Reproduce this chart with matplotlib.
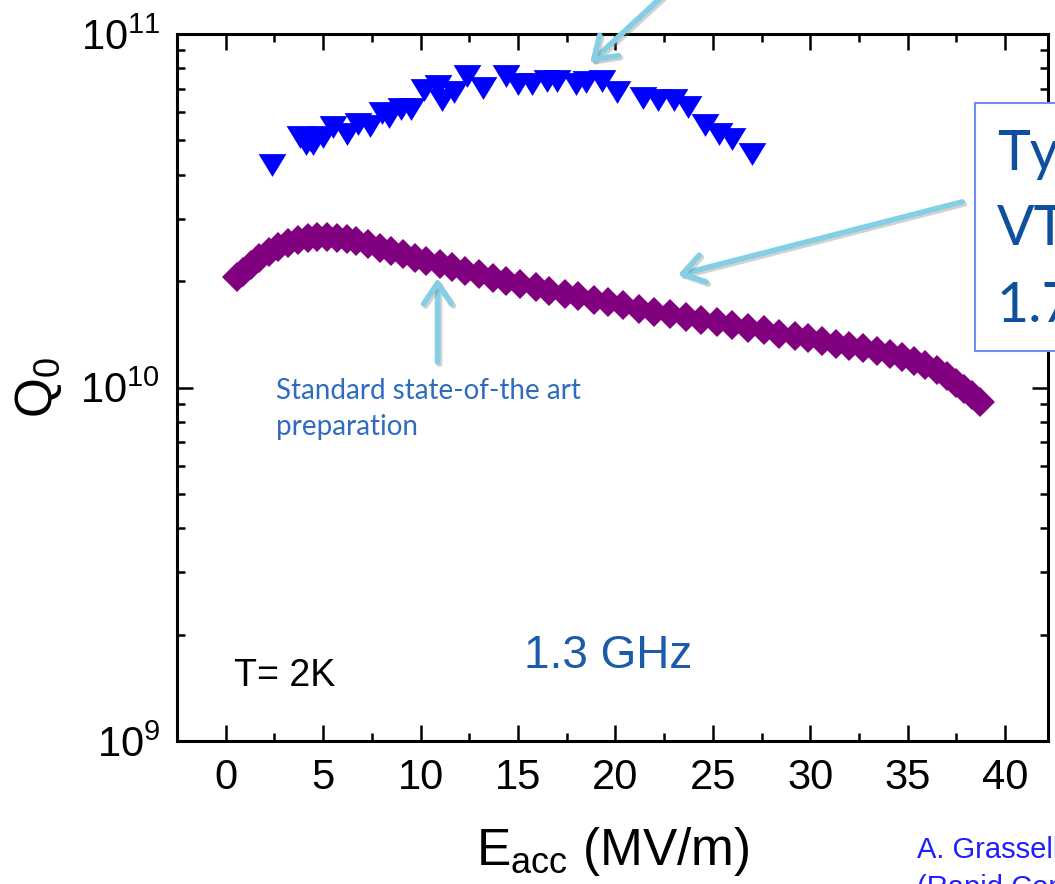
import numpy as np
import matplotlib
matplotlib.use("Agg")
import matplotlib.pyplot as plt
import matplotlib.patheffects as pe
from matplotlib.patches import Rectangle
from matplotlib.ticker import MultipleLocator, LogLocator, NullFormatter

plt.rcParams['font.family'] = ['Liberation Sans', 'DejaVu Sans']
plt.rcParams['mathtext.fontset'] = 'custom'
plt.rcParams['mathtext.rm'] = 'Liberation Sans'
plt.rcParams['mathtext.it'] = 'Liberation Sans:italic'
plt.rcParams['mathtext.bf'] = 'Liberation Sans:bold'

# blue triangles (upper series)
e_blue = [2.4, 3.8, 4.1, 4.3, 4.5, 5.0, 5.5, 6.2, 6.8, 7.4, 8.0, 8.4, 9.0, 9.5,
          10.2, 10.9, 11.1, 11.7, 12.4, 13.2, 14.4, 15.0, 15.7, 16.5, 17.0,
          18.0, 18.5, 19.3, 20.1, 21.4, 22.2, 23.0, 23.7, 24.6, 25.3, 26.0, 27.0]
q_blue = [4.26, 5.1, 4.87, 5.0, 4.87, 5.12, 5.46, 5.2, 5.58, 5.5, 5.96, 5.83, 6.15, 6.13,
          6.95, 7.14, 6.5, 6.86, 7.59, 7.05, 7.59, 7.24, 7.24, 7.35, 7.35,
          7.24, 7.33, 7.35, 6.86, 6.57, 6.5, 6.5, 6.22, 5.53, 5.23, 5.06, 4.58]

# purple diamonds (standard preparation)
e_purple = [0.6, 0.9, 1.3, 1.7, 2.2, 2.7, 3.2, 3.7, 4.2, 4.7, 5.2, 5.7, 6.2, 6.7,
            7.3, 7.9, 8.5, 9.1, 9.7, 10.3, 11.0, 11.6, 12.3, 13.0, 13.7, 14.4,
            15.1, 15.9, 16.6, 17.4, 18.1, 18.9, 19.6, 20.4, 21.2, 22.0, 22.8,
            23.6, 24.4, 25.2, 26.0, 26.8, 27.6, 28.4, 29.2, 29.9, 30.6, 31.3,
            32.0, 32.7, 33.4, 34.1, 34.7, 35.3, 35.9, 36.5, 37.0, 37.5, 37.9,
            38.3, 38.7]
q_purple = [2.05, 2.12, 2.22, 2.32, 2.42, 2.5, 2.56, 2.61, 2.64, 2.66, 2.66, 2.65,
            2.63, 2.59, 2.54, 2.48, 2.43, 2.38, 2.33, 2.28, 2.24, 2.19, 2.14, 2.09,
            2.04, 2.0, 1.96, 1.92, 1.88, 1.84, 1.81, 1.77, 1.74, 1.71, 1.67, 1.64,
            1.61, 1.58, 1.55, 1.53, 1.50, 1.47, 1.45, 1.42, 1.40, 1.38, 1.35, 1.33,
            1.31, 1.29, 1.27, 1.24, 1.22, 1.19, 1.16, 1.12, 1.08, 1.03, 0.99, 0.95,
            0.91]

q_blue = np.array(q_blue) * 1e10
q_purple = np.array(q_purple) * 1e10

W, H = 1055, 884
fig = plt.figure(figsize=(W / 100, H / 100), dpi=100)
ax = fig.add_axes([177 / W, 1 - 741 / H, (1048 - 177) / W, (741 - 34) / H])

tri = [(-1, 0.82), (1, 0.82), (0, -0.82)]
ax.plot(e_blue, q_blue, linestyle='none', marker=tri, ms=20, color='#0000ff', mew=0)
ax.plot(e_purple, q_purple, linestyle='none', marker='D', ms=15, color='#800080', mew=0)

ax.set_yscale('log')
ax.set_ylim(1e9, 1e11)
ax.set_xlim(-2.5, 42.2)
ax.xaxis.set_major_locator(MultipleLocator(5))
ax.xaxis.set_minor_locator(MultipleLocator(2.5))
ax.yaxis.set_major_locator(LogLocator(base=10, numticks=5))
ax.yaxis.set_minor_locator(LogLocator(base=10, subs=np.arange(2, 10), numticks=20))
ax.yaxis.set_minor_formatter(NullFormatter())

for s in ax.spines.values():
    s.set_linewidth(2.2)
ax.tick_params(which='both', direction='in', top=True, right=True, width=1.8,
               labelsize=30, pad=12)
ax.tick_params(which='major', length=11.5)
ax.tick_params(which='minor', length=6)

ax.set_xlabel(r'E$_\mathregular{acc}$ (MV/m)', fontsize=37, labelpad=20)
ax.set_ylabel(r'Q$_\mathregular{0}$', fontsize=37, labelpad=12)

ax.text(0.41, 1.43e9, 'T= 2K', fontsize=27, color='black', va='baseline')
ax.text(19.64, 1.61e9, '1.3 GHz', fontsize=33, color='#1a5ca8', ha='center', va='baseline')
ax.text(2.56, 9.28e9, 'Standard state-of-the art', fontsize=20, color='#2f6cc0',
        family='Lato', va='baseline')
ax.text(2.56, 7.34e9, 'preparation', fontsize=20, color='#2f6cc0',
        family='Lato', va='baseline')

arrow_kw = dict(arrowstyle='->,head_length=0.75,head_width=0.5', color='#84cfe3',
                lw=4, mutation_scale=20, shrinkA=0, shrinkB=0)
arrows = [((18.7, 8.28e10), (23.3, 1.42e11)),
          ((23.2, 2.08e10), (37.8, 3.35e10)),
          ((10.87, 2.04e10), (10.87, 1.18e10))]
for tip, tail in arrows:
    a = ax.annotate('', xy=tip, xytext=tail, arrowprops=arrow_kw, annotation_clip=False)
    a.arrow_patch.set_path_effects([pe.SimpleLineShadow(offset=(1.5, -1.5), shadow_color='gray',
                                                        alpha=0.35), pe.Normal()])

# callout box cut off at the right edge
fig.add_artist(Rectangle((975 / W, 1 - 351 / H), 0.2, 248 / H, transform=fig.transFigure,
                         facecolor='white', edgecolor='#6f8ff2', lw=1.5, zorder=5))
for txt, yb in [('Ty', 170), ('VT', 245), ('1.7', 322)]:
    fig.text(997 / W, 1 - yb / H, txt, fontsize=40, color='#0f509e', family='Lato',
             va='baseline', zorder=6)

fig.text(917 / W, 1 - 858 / H, 'A. Grassellino', fontsize=21, color='#1e1eff', va='baseline')
fig.text(917 / W, 1 - 896 / H, '(Rapid Communication)', fontsize=21, color='#1e1eff',
         va='baseline')

fig.savefig('out.png', dpi=100)
